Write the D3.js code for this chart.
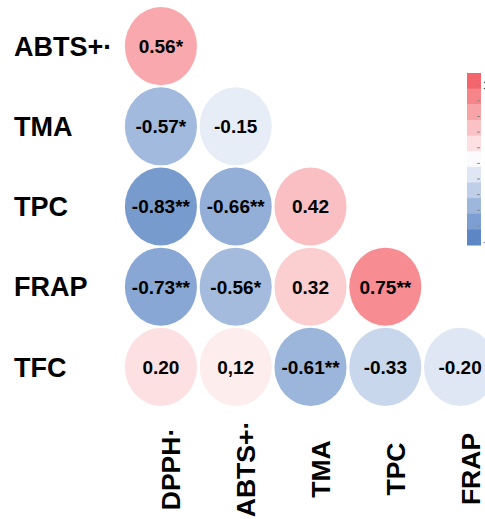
<!DOCTYPE html>
<html>
<head>
<meta charset="utf-8">
<script src="https://cdn.jsdelivr.net/npm/d3@7"></script>
<style>
  html, body { margin: 0; padding: 0; background: #fff; overflow: hidden; }
  svg { display: block; font-family: "Liberation Sans", Arial, sans-serif; }
</style>
</head>
<body>
<div id="chart"></div>
<script>
// Lower-triangle correlation matrix of antioxidant assays
const rowNames = ["ABTS+·", "TMA", "TPC", "FRAP", "TFC"];
const colNames = ["DPPH·", "ABTS+·", "TMA", "TPC", "FRAP"];

// correlation coefficients, row by row (lower triangle)
const rAbts = [0.56];
const rTma  = [-0.57, -0.15];
const rTpc  = [-0.83, -0.66, 0.42];
const rFrap = [-0.73, -0.56, 0.32, 0.75];
const rTfc  = [0.20, 0.12, -0.61, -0.33, -0.20];

// significance markers (* p<0.05, ** p<0.01)
const sAbts = ["*"];
const sTma  = ["*", ""];
const sTpc  = ["**", "**", ""];
const sFrap = ["**", "*", "", "**"];
const sTfc  = ["", "", "**", "", ""];

// legend breaks, top to bottom
const legendBins = [1, 0.8, 0.6, 0.4, 0.2, 0, -0.2, -0.4, -0.6, -0.8, -1];

const W = 485, H = 519;
const svg = d3.select("#chart").append("svg").attr("width", W).attr("height", H);

const x = d3.scaleBand().domain(colNames).range([123.5, 497.5]);
const y = d3.scaleBand().domain(rowNames).range([6, 407]);
const color = d3.scaleLinear().domain([-1, 0, 1]).range(["#5c86c4", "#ffffff", "#f4666d"]);

const rValues = [rAbts, rTma, rTpc, rFrap, rTfc];
const rStars = [sAbts, sTma, sTpc, sFrap, sTfc];
const cells = [];
rValues.forEach((row, i) => row.forEach((v, j) => {
  let txt = v.toFixed(2);
  if (rowNames[i] === "TFC" && colNames[j] === "ABTS+·") txt = txt.replace(".", ",");
  cells.push({ row: rowNames[i], col: colNames[j], v, label: txt + rStars[i][j] });
}));

const rx = x.bandwidth() * 0.482, ry = y.bandwidth() * 0.487;

const g = svg.append("g");
g.selectAll("ellipse").data(cells).join("ellipse")
  .attr("cx", d => x(d.col) + x.bandwidth() / 2)
  .attr("cy", d => y(d.row) + y.bandwidth() / 2)
  .attr("rx", rx).attr("ry", ry)
  .attr("fill", d => color(d.v));

g.selectAll("text.val").data(cells).join("text")
  .attr("class", "val")
  .attr("x", d => x(d.col) + x.bandwidth() / 2)
  .attr("y", d => y(d.row) + y.bandwidth() / 2)
  .attr("dy", "0.36em")
  .attr("text-anchor", "middle")
  .attr("font-size", 19).attr("font-weight", "bold").attr("fill", "#000")
  .text(d => d.label);

// row labels
svg.selectAll("text.rowlab").data(rowNames).join("text")
  .attr("class", "rowlab")
  .attr("x", 14)
  .attr("y", d => y(d) + y.bandwidth() / 2)
  .attr("dy", "0.36em")
  .attr("font-size", 27).attr("font-weight", "bold").attr("fill", "#000")
  .text(d => d);

// column labels, rotated
svg.selectAll("text.collab").data(colNames).join("text")
  .attr("class", "collab")
  .attr("transform", d => `translate(${x(d) + x.bandwidth() / 2 + 19.5},469) rotate(-90)`)
  .attr("text-anchor", "middle")
  .attr("font-size", 26.5).attr("font-weight", "bold").attr("fill", "#000")
  .text(d => d);

// colour legend
const lg = svg.append("g");
const ly = d3.scaleBand().domain(legendBins).range([73, 245]);
lg.selectAll("rect").data(legendBins).join("rect")
  .attr("x", 467).attr("width", 14)
  .attr("y", d => ly(d)).attr("height", ly.bandwidth() + 0.5)
  .attr("fill", d => d === 0 ? "#fbfbfd" : color(d));
lg.selectAll("line").data(legendBins).join("line")
  .attr("x1", 477).attr("x2", 480)
  .attr("y1", d => ly(d) + ly.bandwidth() * 0.78)
  .attr("y2", d => ly(d) + ly.bandwidth() * 0.78)
  .attr("stroke", "#8a8a8a").attr("stroke-width", 1);
lg.selectAll("text").data([legendBins[0], legendBins[legendBins.length - 1]]).join("text")
  .attr("x", 483)
  .attr("y", d => ly(d) + ly.bandwidth() * 0.78)
  .attr("dy", "0.35em")
  .attr("font-size", 10)
  .attr("fill", d => d > 0 ? "#000" : "#888")
  .text(d => d);
</script>
</body>
</html>
